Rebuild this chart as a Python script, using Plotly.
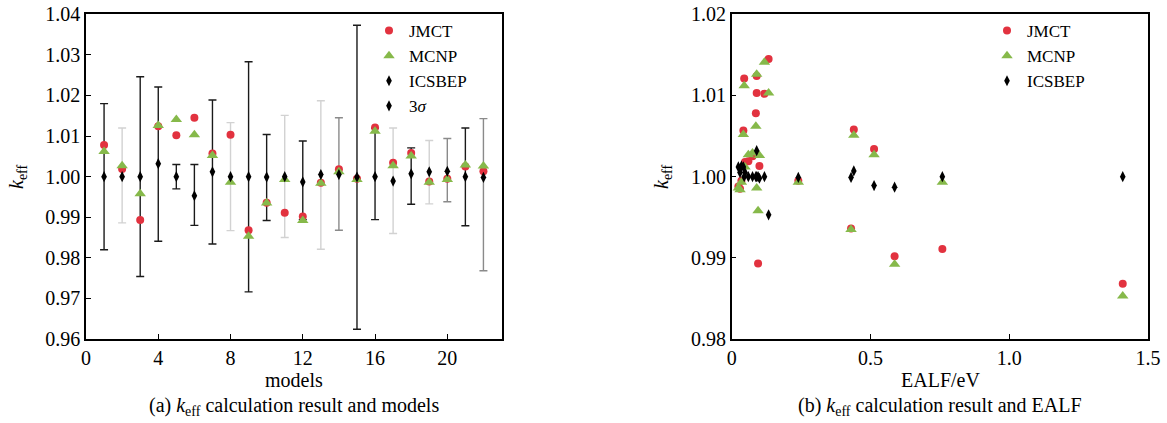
import plotly.graph_objects as go

# ---------------- data ----------------
models = list(range(1, 23))
jmct = [1.0078, 1.0019, 0.9893, 1.0124, 1.0102, 1.0145, 1.0057, 1.0103, 0.9868, 0.9936, 0.9911,
        0.9902, 0.9985, 1.0018, 0.9995, 1.0121, 1.0034, 1.0058, 0.9988, 0.9995, 1.0025, 1.0013]
mcnp = [1.0062, 1.0027, 0.9958, 1.0126, 1.0141, 1.0103, 1.0052, 0.9986, 0.9853, 0.9935, 0.9993,
        0.9892, 0.9984, 1.0012, 0.9993, 1.0112, 1.0027, 1.0051, 0.9986, 0.9993, 1.0029, 1.0026]
icsbep = [1.0000, 1.0000, 1.0000, 1.0032, 1.0000, 0.9953, 1.0012, 1.0000, 1.0000, 0.9999, 1.0000,
          0.9987, 1.0005, 1.0005, 0.9999, 1.0000, 0.9989, 1.0007, 1.0012, 1.0013, 1.0000, 0.9998]
err_plus = [0.0180, 0.0120, 0.0246, 0.0189, 0.0030, 0.0077, 0.0177, 0.0133, 0.0283, 0.0105, 0.0151,
            0.0101, 0.0182, 0.0140, 0.0374, 0.0120, 0.0131, 0.0064, 0.0077, 0.0081, 0.0120, 0.0145]
err_minus = [0.0180, 0.0114, 0.0246, 0.0191, 0.0030, 0.0073, 0.0178, 0.0133, 0.0284, 0.0107, 0.0150,
             0.0093, 0.0184, 0.0137, 0.0375, 0.0106, 0.0129, 0.0075, 0.0079, 0.0075, 0.0121, 0.0230]
ealf = [0.087, 0.060, 0.095, 0.090, 0.118, 0.133, 0.042, 0.090, 1.409, 0.430, 0.759,
        0.587, 0.030, 0.048, 0.240, 0.045, 0.513, 0.440, 0.024, 0.035, 0.075, 0.100]

# style per model error bar (shade group)
bar_shade = ["d", "l", "d", "d", "d", "d", "d", "l", "d", "d", "l",
             "d", "l", "m", "d", "d", "l", "d", "l", "m", "d", "m"]
shade_color = {"d": "#1a1a1a", "m": "#8a8a8a", "l": "#d2d2d2"}

RED = "#e2323f"
GREEN = "#86b94a"
FONT = "Liberation Serif, Times New Roman, serif"

fig = go.Figure()

# error bars (behind markers)
for key in ["l", "m", "d"]:
    idx = [i for i, s in enumerate(bar_shade) if s == key]
    fig.add_trace(go.Scatter(
        x=[models[i] for i in idx], y=[icsbep[i] for i in idx],
        mode="markers", marker=dict(color="rgba(0,0,0,0)", size=1),
        error_y=dict(type="data", symmetric=False,
                     array=[err_plus[i] for i in idx],
                     arrayminus=[err_minus[i] for i in idx],
                     color=shade_color[key], thickness=1.4, width=4),
        showlegend=False, hoverinfo="skip", xaxis="x", yaxis="y"))

def add_markers(xs, xa, ya, leg, show3s=False):
    fig.add_trace(go.Scatter(x=xs, y=jmct, mode="markers", name="JMCT",
                             marker=dict(symbol="circle", size=8, color=RED),
                             xaxis=xa, yaxis=ya, legend=leg))
    fig.add_trace(go.Scatter(x=xs, y=mcnp, mode="markers", name="MCNP",
                             marker=dict(symbol="triangle-up", size=10, color=GREEN),
                             xaxis=xa, yaxis=ya, legend=leg))
    fig.add_trace(go.Scatter(x=xs, y=icsbep, mode="markers", name="ICSBEP",
                             marker=dict(symbol="diamond-tall", size=8, color="black"),
                             xaxis=xa, yaxis=ya, legend=leg))
    if show3s:
        fig.add_trace(go.Scatter(x=[None], y=[None], mode="markers", name="3<i>σ</i>",
                                 marker=dict(symbol="diamond-tall", size=8, color="black"),
                                 xaxis=xa, yaxis=ya, legend=leg))

add_markers(models, "x", "y", "legend", show3s=True)
add_markers(ealf, "x2", "y2", "legend2")

W, H = 1167, 423
def px(v):
    return v / W
def py(v):
    return 1 - v / H

axis_common = dict(showline=True, linecolor="black", linewidth=1.5, mirror=True,
                   ticks="inside", ticklen=5, tickwidth=1, tickcolor="black",
                   showgrid=False, zeroline=False, automargin=False,
                   ticklabeloverflow="allow",
                   tickfont=dict(family=FONT, size=20, color="black"))

fig.update_layout(
    width=W, height=H,
    margin=dict(l=0, r=0, t=0, b=0, autoexpand=False),
    paper_bgcolor="white", plot_bgcolor="white",
    font=dict(family=FONT, size=20, color="black"),
    xaxis=dict(domain=[px(86), px(501.5)], range=[0, 23], tickvals=[0, 4, 8, 12, 16, 20],
               anchor="y", **axis_common),
    yaxis=dict(domain=[py(339), py(14.3)], range=[0.96, 1.04], dtick=0.01, tickformat=".2f",
               anchor="x", **axis_common),
    xaxis2=dict(domain=[px(731.7), px(1148)], range=[0, 1.5], tickvals=[0, 0.5, 1.0, 1.5],
                ticktext=["0", "0.5", "1.0", "1.5"], anchor="y2", **axis_common),
    yaxis2=dict(domain=[py(339), py(14.3)], range=[0.98, 1.02], dtick=0.01, tickformat=".2f",
                anchor="x2", **axis_common),
    legend=dict(x=px(369), y=py(13), xanchor="left", yanchor="top",
                font=dict(family=FONT, size=17, color="black"),
                bgcolor="rgba(0,0,0,0)", borderwidth=0, tracegroupgap=0),
    legend2=dict(x=px(987), y=py(13), xanchor="left", yanchor="top",
                 font=dict(family=FONT, size=17, color="black"),
                 bgcolor="rgba(0,0,0,0)", borderwidth=0, tracegroupgap=0),
)

ann = [
    dict(text="<i>k</i><sub>eff</sub>", x=px(17), y=py(177), textangle=-90),
    dict(text="<i>k</i><sub>eff</sub>", x=px(662), y=py(177), textangle=-90),
    dict(text="models", x=px(293.5), y=py(380)),
    dict(text="EALF/eV", x=px(940), y=py(380)),
    dict(text="(a) <i>k</i><sub>eff</sub> calculation result and models", x=px(293.5), y=py(406)),
    dict(text="(b) <i>k</i><sub>eff</sub> calculation result and EALF", x=px(940), y=py(406)),
]
for a in ann:
    fig.add_annotation(xref="paper", yref="paper", showarrow=False,
                       xanchor="center", yanchor="middle",
                       font=dict(family=FONT, size=20, color="black"), **a)

# remove the browser's default 8px page margin so the figure fills the window
fig.write_html("out.html", config={"displayModeBar": False},
               post_script="document.body.style.margin='0';"
                           "document.body.style.overflow='hidden';")
